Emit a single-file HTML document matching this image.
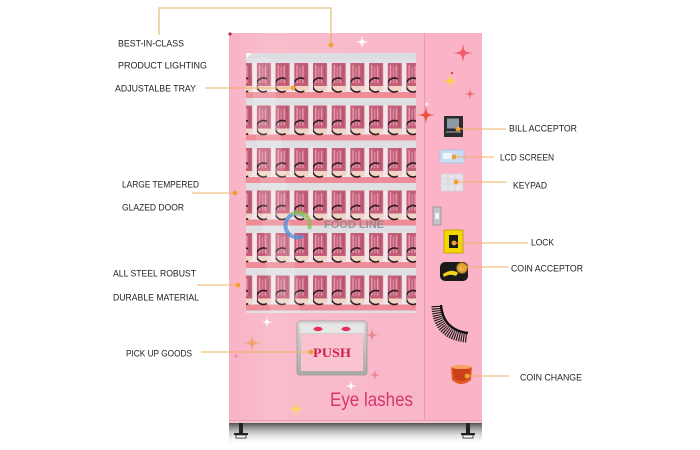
<!DOCTYPE html>
<html><head><meta charset="utf-8"><style>
html,body{margin:0;padding:0;background:#fff;width:700px;height:450px;overflow:hidden}
svg{display:block}
</style></head><body>
<svg width="700" height="450" viewBox="0 0 700 450" xmlns="http://www.w3.org/2000/svg">
<defs>
  <path id="sp" d="M0,-1 C0.12,-0.12 0.12,-0.12 1,0 C0.12,0.12 0.12,0.12 0,1 C-0.12,0.12 -0.12,0.12 -1,0 C-0.12,-0.12 -0.12,-0.12 0,-1Z"/>
  <linearGradient id="body" x1="0" y1="0" x2="1" y2="0">
    <stop offset="0" stop-color="#f7b3c5"/>
    <stop offset="0.15" stop-color="#f9bccb"/>
    <stop offset="1" stop-color="#f8b5c7"/>
  </linearGradient>
  <linearGradient id="shadow" x1="0" y1="0" x2="0" y2="1">
    <stop offset="0" stop-color="#4a4a4a" stop-opacity="0.95"/>
    <stop offset="1" stop-color="#ffffff" stop-opacity="0"/>
  </linearGradient>
  <linearGradient id="door" x1="0" y1="0" x2="0" y2="1">
    <stop offset="0" stop-color="#d9d9d9"/>
    <stop offset="1" stop-color="#a9a9a9"/>
  </linearGradient>
  <pattern id="prod" patternUnits="userSpaceOnUse" x="331.7" y="63" width="18.7" height="42.5">
    <rect x="0" y="0" width="18.7" height="29" fill="#f3e6ea"/>
    <rect x="0" y="0" width="14" height="24" fill="#c45f78"/>
    <rect x="2" y="2" width="1.4" height="18" fill="#e39cae"/>
    <rect x="5" y="4" width="1.2" height="16" fill="#dc8ea2"/>
    <rect x="8" y="3" width="1.2" height="17" fill="#e6a2b4"/>
    <rect x="11" y="1" width="1" height="20" fill="#b04f68"/>
    <rect x="1" y="23" width="13" height="5" fill="#f0d5c6"/>
    <rect x="0" y="29" width="18.7" height="6" fill="#ee8c97"/>
    <rect x="0" y="35" width="18.7" height="7.5" fill="#dfe0e4"/>
    <path d="M10,15.9 A7,7 0 1 0 10,28.1" fill="none" stroke="#2e1a1e" stroke-width="1.6"/>
  </pattern>
</defs>

<!-- shadow under machine -->
<rect x="229" y="423" width="253" height="22" fill="url(#shadow)"/>
<!-- feet -->
<g fill="#222">
  <rect x="239" y="423" width="4" height="11"/>
  <rect x="234" y="433" width="14" height="2"/>
  <rect x="236" y="435" width="10" height="3" fill="#fff" stroke="#222" stroke-width="0.8"/>
  <rect x="466" y="423" width="4" height="11"/>
  <rect x="461" y="433" width="14" height="2"/>
  <rect x="463" y="435" width="10" height="3" fill="#fff" stroke="#222" stroke-width="0.8"/>
</g>

<!-- body -->
<rect x="229" y="33" width="253" height="390" fill="url(#body)"/>
<rect x="424" y="33" width="58" height="390" fill="#fbb4c7"/>
<line x1="424.5" y1="33" x2="424.5" y2="422" stroke="#e999ae" stroke-width="1"/>
<line x1="229" y1="420.5" x2="482" y2="420.5" stroke="#e8a2b4" stroke-width="1"/>
<rect x="229" y="421" width="253" height="2" fill="#f3c2cf"/>
<circle cx="230" cy="34" r="1.6" fill="#b03050"/>

<!-- window -->
<rect x="246" y="58" width="170" height="255" fill="url(#prod)"/>
<rect x="246" y="53" width="170" height="6" fill="#dcdde1"/>
<polygon points="246,53 252,53 246,59" fill="#f5f5f6"/>
<polygon points="250,58 272,58 300,313 270,313" fill="#ffffff" opacity="0.16"/>

<!-- watermark -->
<g opacity="0.75">
  <path d="M305,216 A12,12 0 1 0 303,236" fill="none" stroke="#4b8fdc" stroke-width="4"/>
  <path d="M292,214 A12,12 0 0 1 309,229" fill="none" stroke="#86c24a" stroke-width="4"/>
  <text x="324" y="228" font-family="Liberation Sans, sans-serif" font-weight="bold" font-size="11" fill="#7d838e" textLength="60" lengthAdjust="spacingAndGlyphs">FOOD LINE</text>
</g>

<!-- push door -->
<rect x="297" y="321" width="70" height="54" rx="3" fill="url(#door)" stroke="#9a9a9a" stroke-width="0.8"/>
<rect x="300" y="324" width="64" height="9" fill="#e6e6e6"/>
<ellipse cx="318" cy="329" rx="4.5" ry="2.2" fill="#e8305a"/>
<ellipse cx="346" cy="329" rx="4.5" ry="2.2" fill="#e8305a"/>
<rect x="301" y="334" width="62" height="37" fill="#f9c3cf"/>
<text x="313" y="357" font-family="Liberation Serif, serif" font-weight="bold" font-size="13" fill="#d21f4e" textLength="38" lengthAdjust="spacingAndGlyphs">PUSH</text>

<text x="330" y="406" font-family="Liberation Sans, sans-serif" font-size="19.5" fill="#d83470" textLength="83" lengthAdjust="spacingAndGlyphs">Eye lashes</text>

<!-- right panel components -->
<rect x="444" y="116" width="19" height="21" fill="#2b2b2d"/>
<rect x="447" y="118.5" width="12" height="10" fill="#8d9aa6"/>
<rect x="446" y="131" width="15" height="2" fill="#6c6c70"/>
<rect x="440" y="150" width="24" height="13" fill="#c9dcf2" stroke="#a8c1e3" stroke-width="0.8"/>
<rect x="443" y="153" width="9" height="6" fill="#eef4fc"/>
<rect x="441" y="174" width="22" height="17" fill="#e6e4ea" stroke="#cfcdd6" stroke-width="0.6"/>
<g stroke="#c9c6d2" stroke-width="0.5">
  <line x1="441" y1="179" x2="463" y2="179"/><line x1="441" y1="184" x2="463" y2="184"/>
  <line x1="448" y1="174" x2="448" y2="191"/><line x1="455" y1="174" x2="455" y2="191"/>
</g>
<rect x="433" y="207" width="8" height="18" fill="#c4c4c8" stroke="#8a8a90" stroke-width="0.7"/>
<rect x="435" y="213" width="4" height="6" fill="#f2f2f2"/>
<rect x="444" y="230" width="19" height="23" fill="#f3d800" stroke="#b39700" stroke-width="0.8"/>
<rect x="449" y="235" width="9" height="13" fill="#1a1a1a"/>
<rect x="440" y="262" width="28" height="19" rx="5" fill="#1b1b1b"/>
<path d="M443,274 Q452,268 458,273 L456,276 Q450,273 444,277 Z" fill="#f2d41c"/>
<circle cx="462" cy="268" r="5.5" fill="#d9a234" stroke="#7b5410" stroke-width="1"/>
<circle cx="462" cy="268" r="2.5" fill="#f0c868"/>
<!-- eyelash -->
<path d="M436,306 Q437,336 467,338" fill="none" stroke="#141414" stroke-width="9" stroke-dasharray="1.1 1.1"/>
<path d="M441,305 Q443,330 468,333" fill="none" stroke="#111" stroke-width="2.4"/>
<!-- coin change -->
<path d="M451,367 L472,367 L471,380 Q461,388 452,380 Z" fill="#e25a22"/>
<path d="M453,369 L470,369 L469,378 Q461,384 454,378 Z" fill="#c9401a"/>
<ellipse cx="461.5" cy="367" rx="10.5" ry="2" fill="#f4a460"/>

<!-- sparkles -->
<use href="#sp" transform="translate(362,42) scale(7)" fill="#ffffff"/>
<use href="#sp" transform="translate(463,53) scale(10)" fill="#f0606c"/>
<use href="#sp" transform="translate(450,81) scale(8)" fill="#f7d24a"/>
<circle cx="452" cy="73" r="1.2" fill="#d04060"/>
<use href="#sp" transform="translate(470,94) scale(6)" fill="#ef6e78"/>
<use href="#sp" transform="translate(426,115) scale(9)" fill="#f05040"/>
<use href="#sp" transform="translate(427,104) scale(3)" fill="#ffffff"/>
<use href="#sp" transform="translate(267,322) scale(6)" fill="#ffffff"/>
<use href="#sp" transform="translate(252,343) scale(9)" fill="#f4a374"/>
<use href="#sp" transform="translate(236,356) scale(3)" fill="#e07a92"/>
<use href="#sp" transform="translate(372,335) scale(7)" fill="#f08595"/>
<use href="#sp" transform="translate(375,375) scale(6)" fill="#f08595"/>
<use href="#sp" transform="translate(351,386) scale(6)" fill="#ffffff"/>
<use href="#sp" transform="translate(296,409) scale(8)" fill="#f8da62"/>

<!-- callout lines -->
<polyline points="159,35 159,8 331,8 331,45" fill="none" stroke="#d9b45e" stroke-width="1"/>
<g stroke="#f2b160" stroke-width="1">
  <line x1="205" y1="88" x2="293" y2="88"/>
  <line x1="192" y1="193" x2="235" y2="193"/>
  <line x1="197" y1="285" x2="238" y2="285"/>
  <line x1="201" y1="352" x2="311" y2="352"/>
  <line x1="458" y1="129" x2="506" y2="129"/>
  <line x1="454" y1="157" x2="494" y2="157"/>
  <line x1="456" y1="182" x2="507" y2="182"/>
  <line x1="454" y1="243" x2="528" y2="243"/>
  <line x1="463" y1="267" x2="508" y2="267"/>
  <line x1="467" y1="376" x2="509" y2="376"/>
</g>
<g fill="#f0a030">
  <circle cx="331" cy="45" r="2.4"/>
  <circle cx="293" cy="88" r="2.4"/>
  <circle cx="235" cy="193" r="2.4"/>
  <circle cx="238" cy="285" r="2.4"/>
  <circle cx="311" cy="352" r="2.4"/>
  <circle cx="458" cy="129" r="2.4"/>
  <circle cx="454" cy="157" r="2.4"/>
  <circle cx="456" cy="182" r="2.4"/>
  <circle cx="454" cy="243" r="2.4"/>
  <circle cx="463" cy="267" r="2.4"/>
  <circle cx="467" cy="376" r="2.4"/>
</g>

<!-- labels -->
<g font-family="Liberation Sans, sans-serif" font-size="9.5" fill="#222">
  <text x="118" y="46.5" textLength="66" lengthAdjust="spacingAndGlyphs">BEST-IN-CLASS</text>
  <text x="118" y="68.5" textLength="89" lengthAdjust="spacingAndGlyphs">PRODUCT LIGHTING</text>
  <text x="115" y="91.5" textLength="81" lengthAdjust="spacingAndGlyphs">ADJUSTALBE TRAY</text>
  <text x="122" y="187.5" textLength="77" lengthAdjust="spacingAndGlyphs">LARGE TEMPERED</text>
  <text x="122" y="210.5" textLength="62" lengthAdjust="spacingAndGlyphs">GLAZED DOOR</text>
  <text x="113" y="276.5" textLength="83" lengthAdjust="spacingAndGlyphs">ALL STEEL ROBUST</text>
  <text x="113" y="300.5" textLength="86" lengthAdjust="spacingAndGlyphs">DURABLE MATERIAL</text>
  <text x="126" y="356.5" textLength="66" lengthAdjust="spacingAndGlyphs">PICK UP GOODS</text>
  <text x="509" y="131.5" textLength="68" lengthAdjust="spacingAndGlyphs">BILL ACCEPTOR</text>
  <text x="500" y="160.5" textLength="54" lengthAdjust="spacingAndGlyphs">LCD SCREEN</text>
  <text x="513" y="188.5" textLength="34" lengthAdjust="spacingAndGlyphs">KEYPAD</text>
  <text x="531" y="245.5" textLength="23" lengthAdjust="spacingAndGlyphs">LOCK</text>
  <text x="511" y="271.5" textLength="72" lengthAdjust="spacingAndGlyphs">COIN ACCEPTOR</text>
  <text x="520" y="380.5" textLength="62" lengthAdjust="spacingAndGlyphs">COIN CHANGE</text>
</g>
</svg>
</body></html>
